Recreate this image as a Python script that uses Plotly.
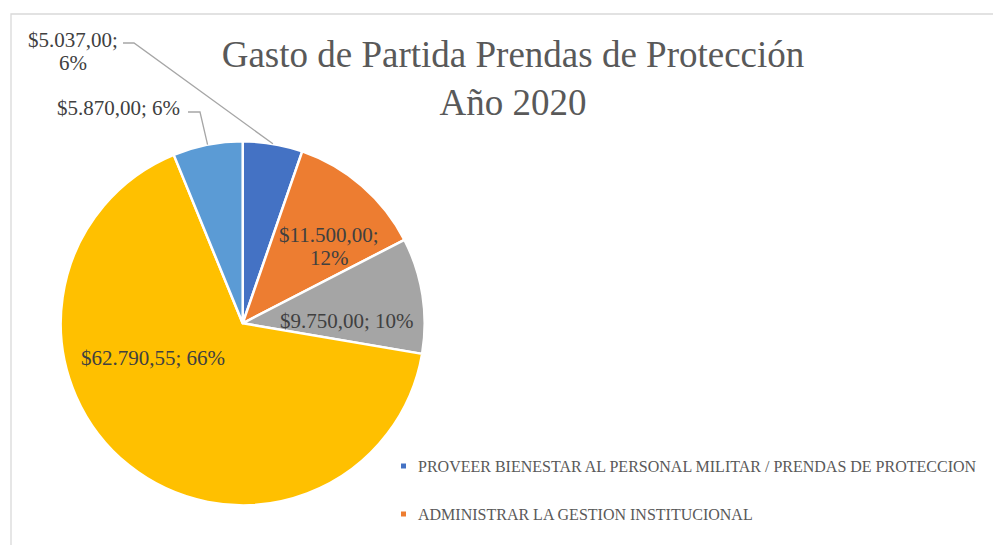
import math
import plotly.graph_objects as go

# Data (clockwise from 12 o'clock)
categories = [
    "PROVEER BIENESTAR AL PERSONAL MILITAR / PRENDAS DE PROTECCION",
    "ADMINISTRAR LA GESTION INSTITUCIONAL",
    "Partida 3",
    "Partida 4",
    "Partida 5",
]
values = [5037.00, 11500.00, 9750.00, 62790.55, 5870.00]
pct_labels = ["6%", "12%", "10%", "66%", "6%"]
colors = ["#4472C4", "#ED7D31", "#A5A5A5", "#FFC000", "#5B9BD5"]
legend_shown = 2  # the rest of the legend is cut off in the original

W, H = 1001, 545
OFF = 8  # page body margin
FONT = "Liberation Serif, Times New Roman, serif"
TXT = "#404040"

# pie geometry in pixels
cx, cy, rad = 242.7, 323.3, 182


def px(x):
    return (x - OFF) / W


def py(y):
    return 1 - (y - OFF) / H


def money(v):
    s = f"{v:,.2f}".replace(",", "X").replace(".", ",").replace("X", ".")
    return "$" + s


def edge_point(i):
    total = sum(values)
    frac = (sum(values[:i]) + values[i] / 2) / total
    th = 2 * math.pi * frac
    return cx + rad * math.sin(th), cy - rad * math.cos(th)


fig = go.Figure(go.Pie(
    labels=categories,
    values=values,
    sort=False,
    direction="clockwise",
    rotation=0,
    textinfo="none",
    marker=dict(colors=colors, line=dict(color="white", width=2.5)),
    domain=dict(x=[px(cx - rad), px(cx + rad)], y=[py(cy + rad), py(cy - rad)]),
    showlegend=False,
    hovertemplate="%{label}<br>%{value:$,.2f}<extra></extra>",
))

# data labels: (slice index, center x, line y positions)
label_pos = [
    (0, 72.5, [40, 63]),
    (1, 329, [235, 258]),
    (2, 347, [321]),
    (3, 152.5, [358]),
    (4, 118.5, [108]),
]
annotations = []
for i, x, ys in label_pos:
    if len(ys) == 2:
        lines = [money(values[i]) + ";", pct_labels[i]]
    else:
        lines = [money(values[i]) + "; " + pct_labels[i]]
    for t, y in zip(lines, ys):
        annotations.append(dict(
            x=px(x), y=py(y), xref="paper", yref="paper",
            text=t, showarrow=False, xanchor="center", yanchor="middle",
            font=dict(family=FONT, size=21, color=TXT),
        ))

# legend (only the visible part)
for k in range(legend_shown):
    y = 466 + 48 * k
    annotations.append(dict(
        x=px(416), y=py(y), xref="paper", yref="paper",
        text=categories[k], showarrow=False, xanchor="left", yanchor="middle",
        font=dict(family=FONT, size=16, color="#595959"),
    ))

shapes = []
for k in range(legend_shown):
    y = 466 + 48 * k
    shapes.append(dict(
        type="rect", xref="paper", yref="paper",
        x0=px(401), x1=px(406), y0=py(y + 2.5), y1=py(y - 2.5),
        fillcolor=colors[k], line=dict(width=0),
    ))

# leader lines for the outside labels
for i, (x0, y0, x1) in [(0, (123, 43, 134)), (4, (188, 112, 200))]:
    ex, ey = edge_point(i)
    shapes.append(dict(
        type="path", xref="paper", yref="paper",
        path=f"M {px(x0)} {py(y0)} L {px(x1)} {py(y0)} L {px(ex)} {py(ey)}",
        line=dict(color="#A6A6A6", width=1.3),
    ))

# chart area border
shapes.append(dict(
    type="rect", xref="paper", yref="paper",
    x0=px(11), y0=py(14), x1=1.05, y1=-0.05,
    line=dict(color="#D9D9D9", width=1.3), fillcolor="rgba(0,0,0,0)",
))

fig.update_layout(
    width=W,
    height=H,
    margin=dict(l=0, r=0, t=0, b=0),
    paper_bgcolor="white",
    plot_bgcolor="white",
    title=dict(
        text="Gasto de Partida Prendas de Protección<br>Año 2020",
        x=px(513), xanchor="center",
        y=py(67), yanchor="middle", yref="container",
        font=dict(family=FONT, size=37, color="#595959"),
    ),
    annotations=annotations,
    shapes=shapes,
)

fig.write_html("out.html")
